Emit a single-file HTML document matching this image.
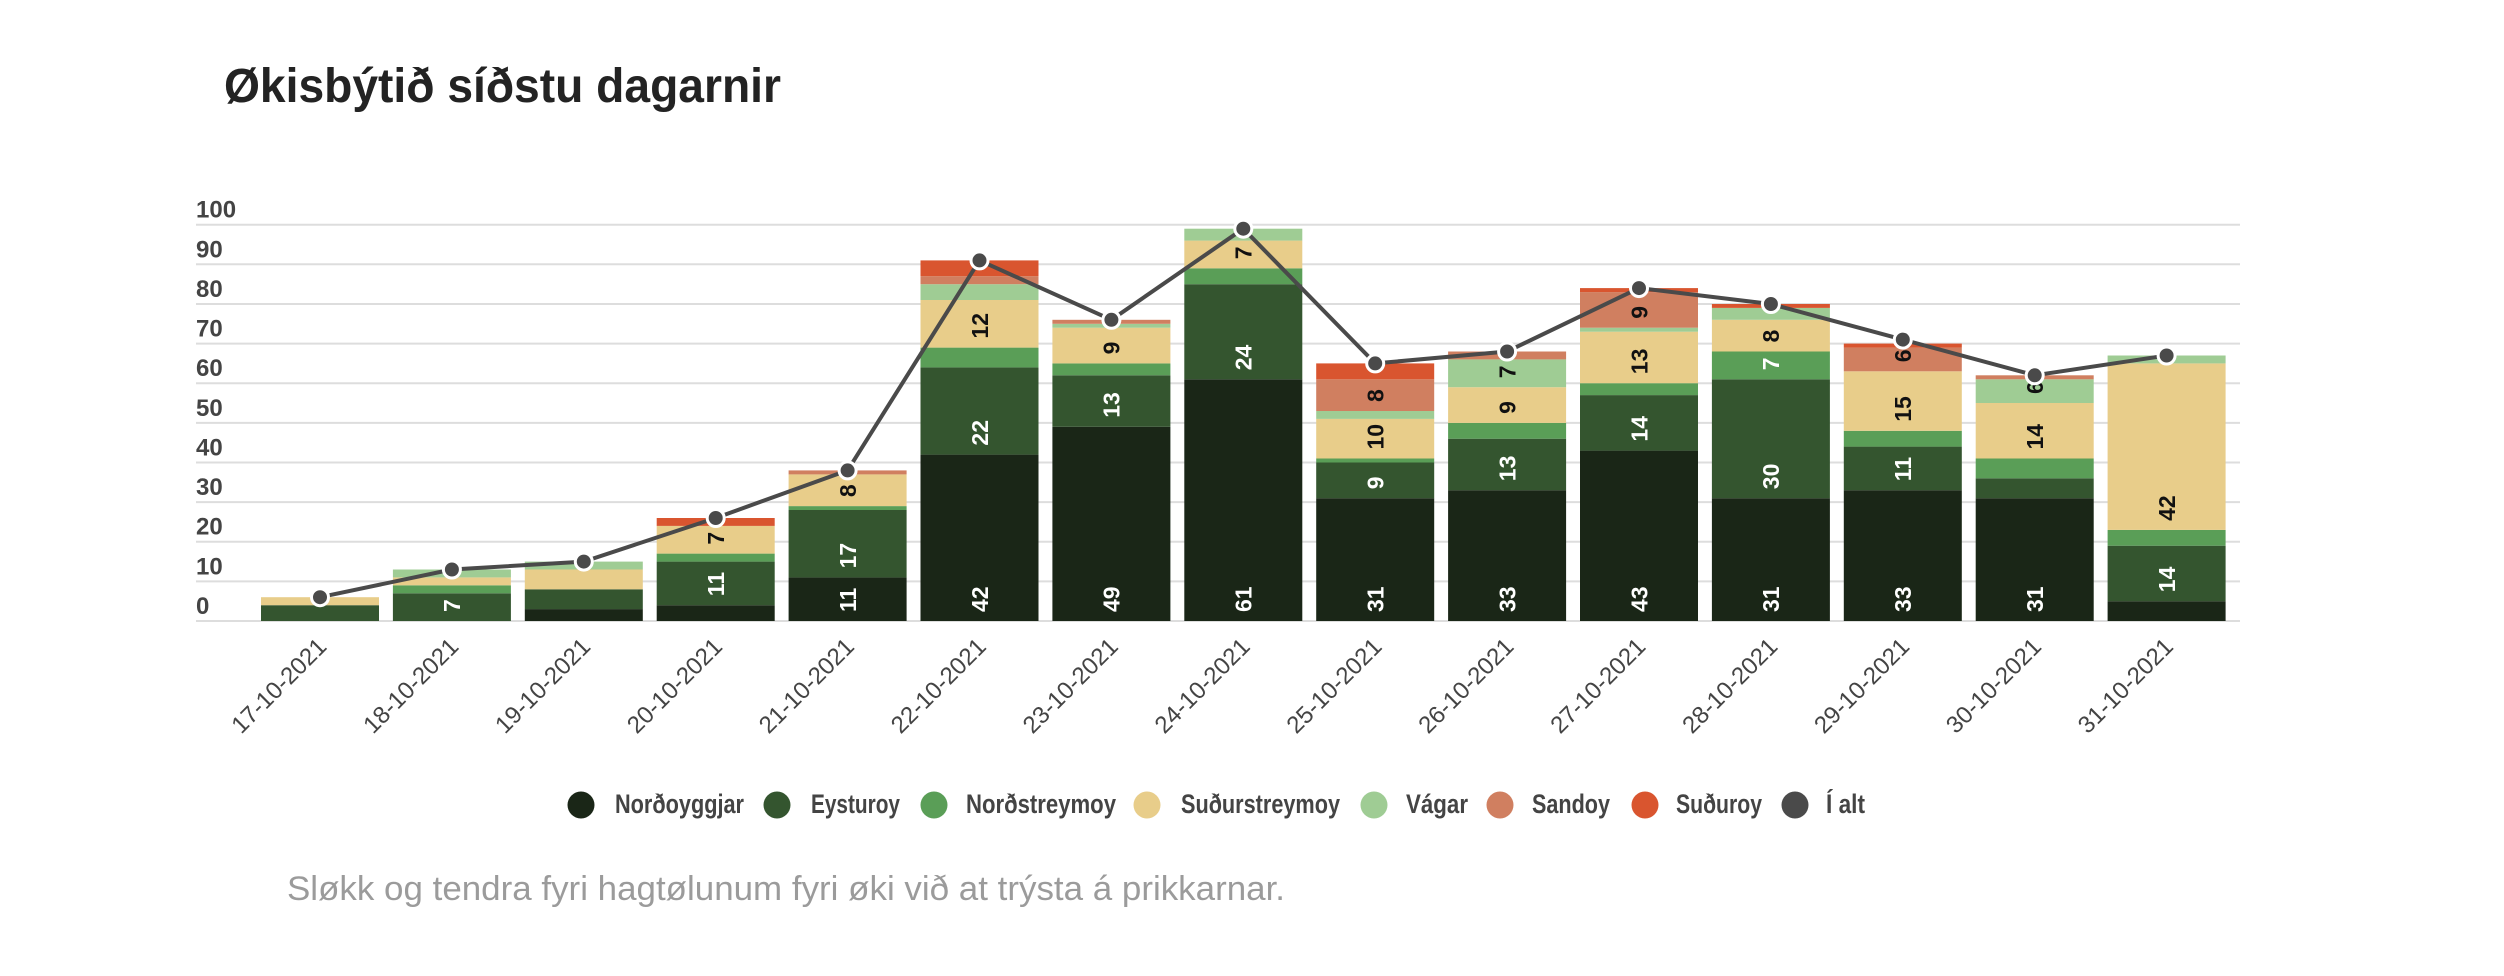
<!DOCTYPE html>
<html>
<head>
<meta charset="utf-8">
<style>
  html, body { margin: 0; padding: 0; background: #ffffff; }
  svg { display: block; }
  .yl { font-family: "Liberation Sans", sans-serif; font-weight: bold; font-size: 24px; fill: #444444; }
  .xl { font-family: "Liberation Sans", sans-serif; font-size: 24px; fill: #444444; }
  .dl { font-family: "Liberation Sans", sans-serif; font-weight: bold; font-size: 23px; }
  .w { fill: #ffffff; }
  .k { fill: #111111; }
  .lg { font-family: "Liberation Sans", sans-serif; font-weight: bold; font-size: 27px; fill: #444444; }
  .N { fill: #1a2617; }
  .E { fill: #34552f; }
  .NS { fill: #5a9e57; }
  .SS { fill: #e8cd8a; }
  .V { fill: #9fcc94; }
  .Sa { fill: #d07f60; }
  .Su { fill: #d9552f; }
</style>
</head>
<body>
<svg width="2504" height="976" viewBox="0 0 2504 976" xmlns="http://www.w3.org/2000/svg">
  <rect x="0" y="0" width="2504" height="976" fill="#ffffff"/>

  <!-- Title -->
  <text x="224" y="102" font-family="Liberation Sans, sans-serif" font-weight="bold" font-size="48" fill="#232323" textLength="557" lengthAdjust="spacingAndGlyphs">Økisbýtið síðstu dagarnir</text>

  <!-- Gridlines -->
  <g stroke="#dddddd" stroke-width="2">
    <line x1="196" y1="224.7" x2="2240" y2="224.7"/>
    <line x1="196" y1="264.3" x2="2240" y2="264.3"/>
    <line x1="196" y1="304.0" x2="2240" y2="304.0"/>
    <line x1="196" y1="343.6" x2="2240" y2="343.6"/>
    <line x1="196" y1="383.2" x2="2240" y2="383.2"/>
    <line x1="196" y1="422.9" x2="2240" y2="422.9"/>
    <line x1="196" y1="462.5" x2="2240" y2="462.5"/>
    <line x1="196" y1="502.1" x2="2240" y2="502.1"/>
    <line x1="196" y1="541.7" x2="2240" y2="541.7"/>
    <line x1="196" y1="581.4" x2="2240" y2="581.4"/>
    <line x1="196" y1="621.0" x2="2240" y2="621.0"/>
  </g>

  <!-- Y labels -->
  <text class="yl" x="196" y="217.7">100</text>
  <text class="yl" x="196" y="257.3">90</text>
  <text class="yl" x="196" y="297.0">80</text>
  <text class="yl" x="196" y="336.6">70</text>
  <text class="yl" x="196" y="376.2">60</text>
  <text class="yl" x="196" y="415.9">50</text>
  <text class="yl" x="196" y="455.5">40</text>
  <text class="yl" x="196" y="495.1">30</text>
  <text class="yl" x="196" y="534.7">20</text>
  <text class="yl" x="196" y="574.4">10</text>
  <text class="yl" x="196" y="614.0">0</text>

  <!-- Bars -->
  <!-- 17-10 -->
  <rect class="E" x="261" y="605.2" width="118" height="15.8"/>
  <rect class="SS" x="261" y="597.2" width="118" height="8.0"/>
  <!-- 18-10 -->
  <rect class="E" x="392.9" y="593.3" width="118" height="27.7"/>
  <rect class="NS" x="392.9" y="585.3" width="118" height="8.0"/>
  <rect class="SS" x="392.9" y="577.4" width="118" height="7.9"/>
  <rect class="V" x="392.9" y="569.5" width="118" height="7.9"/>
  <!-- 19-10 -->
  <rect class="N" x="524.8" y="609.1" width="118" height="11.9"/>
  <rect class="E" x="524.8" y="589.3" width="118" height="19.8"/>
  <rect class="SS" x="524.8" y="569.5" width="118" height="19.8"/>
  <rect class="V" x="524.8" y="561.6" width="118" height="7.9"/>
  <!-- 20-10 -->
  <rect class="N" x="656.7" y="605.2" width="118" height="15.8"/>
  <rect class="E" x="656.7" y="561.6" width="118" height="43.6"/>
  <rect class="NS" x="656.7" y="553.6" width="118" height="8.0"/>
  <rect class="SS" x="656.7" y="525.9" width="118" height="27.7"/>
  <rect class="Su" x="656.7" y="518.0" width="118" height="7.9"/>
  <!-- 21-10 -->
  <rect class="N" x="788.6" y="577.4" width="118" height="43.6"/>
  <rect class="E" x="788.6" y="510.0" width="118" height="67.4"/>
  <rect class="NS" x="788.6" y="506.1" width="118" height="3.9"/>
  <rect class="SS" x="788.6" y="474.4" width="118" height="31.7"/>
  <rect class="Sa" x="788.6" y="470.4" width="118" height="4.0"/>
  <!-- 22-10 -->
  <rect class="N" x="920.5" y="454.6" width="118" height="166.4"/>
  <rect class="E" x="920.5" y="367.4" width="118" height="87.2"/>
  <rect class="NS" x="920.5" y="347.6" width="118" height="19.8"/>
  <rect class="SS" x="920.5" y="300.0" width="118" height="47.6"/>
  <rect class="V" x="920.5" y="284.2" width="118" height="15.8"/>
  <rect class="Sa" x="920.5" y="276.2" width="118" height="8.0"/>
  <rect class="Su" x="920.5" y="260.4" width="118" height="15.8"/>
  <!-- 23-10 -->
  <rect class="N" x="1052.4" y="426.8" width="118" height="194.2"/>
  <rect class="E" x="1052.4" y="375.3" width="118" height="51.5"/>
  <rect class="NS" x="1052.4" y="363.4" width="118" height="11.9"/>
  <rect class="SS" x="1052.4" y="327.7" width="118" height="35.7"/>
  <rect class="V" x="1052.4" y="323.8" width="118" height="3.9"/>
  <rect class="Sa" x="1052.4" y="319.8" width="118" height="4.0"/>
  <!-- 24-10 -->
  <rect class="N" x="1184.3" y="379.3" width="118" height="241.7"/>
  <rect class="E" x="1184.3" y="284.2" width="118" height="95.1"/>
  <rect class="NS" x="1184.3" y="268.3" width="118" height="15.9"/>
  <rect class="SS" x="1184.3" y="240.6" width="118" height="27.7"/>
  <rect class="V" x="1184.3" y="228.7" width="118" height="11.9"/>
  <!-- 25-10 -->
  <rect class="N" x="1316.2" y="498.2" width="118" height="122.8"/>
  <rect class="E" x="1316.2" y="462.5" width="118" height="35.7"/>
  <rect class="NS" x="1316.2" y="458.5" width="118" height="4.0"/>
  <rect class="SS" x="1316.2" y="418.9" width="118" height="39.6"/>
  <rect class="V" x="1316.2" y="411.0" width="118" height="7.9"/>
  <rect class="Sa" x="1316.2" y="379.3" width="118" height="31.7"/>
  <rect class="Su" x="1316.2" y="363.4" width="118" height="15.9"/>
  <!-- 26-10 -->
  <rect class="N" x="1448.1" y="490.2" width="118" height="130.8"/>
  <rect class="E" x="1448.1" y="438.7" width="118" height="51.5"/>
  <rect class="NS" x="1448.1" y="422.9" width="118" height="15.8"/>
  <rect class="SS" x="1448.1" y="387.2" width="118" height="35.7"/>
  <rect class="V" x="1448.1" y="359.4" width="118" height="27.8"/>
  <rect class="Sa" x="1448.1" y="351.5" width="118" height="7.9"/>
  <!-- 27-10 -->
  <rect class="N" x="1580" y="450.6" width="118" height="170.4"/>
  <rect class="E" x="1580" y="395.1" width="118" height="55.5"/>
  <rect class="NS" x="1580" y="383.2" width="118" height="11.9"/>
  <rect class="SS" x="1580" y="331.7" width="118" height="51.5"/>
  <rect class="V" x="1580" y="327.7" width="118" height="4.0"/>
  <rect class="Sa" x="1580" y="292.1" width="118" height="35.6"/>
  <rect class="Su" x="1580" y="288.1" width="118" height="4.0"/>
  <!-- 28-10 -->
  <rect class="N" x="1711.9" y="498.2" width="118" height="122.8"/>
  <rect class="E" x="1711.9" y="379.3" width="118" height="118.9"/>
  <rect class="NS" x="1711.9" y="351.5" width="118" height="27.8"/>
  <rect class="SS" x="1711.9" y="319.8" width="118" height="31.7"/>
  <rect class="V" x="1711.9" y="307.9" width="118" height="11.9"/>
  <rect class="Su" x="1711.9" y="304.0" width="118" height="3.9"/>
  <!-- 29-10 -->
  <rect class="N" x="1843.8" y="490.2" width="118" height="130.8"/>
  <rect class="E" x="1843.8" y="446.6" width="118" height="43.6"/>
  <rect class="NS" x="1843.8" y="430.8" width="118" height="15.8"/>
  <rect class="SS" x="1843.8" y="371.3" width="118" height="59.5"/>
  <rect class="Sa" x="1843.8" y="347.6" width="118" height="23.7"/>
  <rect class="Su" x="1843.8" y="343.6" width="118" height="4.0"/>
  <!-- 30-10 -->
  <rect class="N" x="1975.7" y="498.2" width="118" height="122.8"/>
  <rect class="E" x="1975.7" y="478.3" width="118" height="19.9"/>
  <rect class="NS" x="1975.7" y="458.5" width="118" height="19.8"/>
  <rect class="SS" x="1975.7" y="403.0" width="118" height="55.5"/>
  <rect class="V" x="1975.7" y="379.3" width="118" height="23.7"/>
  <rect class="Sa" x="1975.7" y="375.3" width="118" height="4.0"/>
  <!-- 31-10 -->
  <rect class="N" x="2107.6" y="601.2" width="118" height="19.8"/>
  <rect class="E" x="2107.6" y="545.7" width="118" height="55.5"/>
  <rect class="NS" x="2107.6" y="529.9" width="118" height="15.8"/>
  <rect class="SS" x="2107.6" y="363.4" width="118" height="166.5"/>
  <rect class="V" x="2107.6" y="355.5" width="118" height="7.9"/>

  <!-- Data labels (rotated) -->
  <text class="dl w" transform="translate(451.9,612) rotate(-90)" dy="0.36em">7</text>

  <text class="dl w" transform="translate(715.7,596.2) rotate(-90)" dy="0.36em">11</text>
  <text class="dl k" transform="translate(715.7,544.6) rotate(-90)" dy="0.36em">7</text>

  <text class="dl w" transform="translate(847.6,612) rotate(-90)" dy="0.36em">11</text>
  <text class="dl w" transform="translate(847.6,568.4) rotate(-90)" dy="0.36em">17</text>
  <text class="dl k" transform="translate(847.6,497.1) rotate(-90)" dy="0.36em">8</text>

  <text class="dl w" transform="translate(979.5,612) rotate(-90)" dy="0.36em">42</text>
  <text class="dl w" transform="translate(979.5,445.6) rotate(-90)" dy="0.36em">22</text>
  <text class="dl k" transform="translate(979.5,338.6) rotate(-90)" dy="0.36em">12</text>

  <text class="dl w" transform="translate(1111.4,612) rotate(-90)" dy="0.36em">49</text>
  <text class="dl w" transform="translate(1111.4,417.8) rotate(-90)" dy="0.36em">13</text>
  <text class="dl k" transform="translate(1111.4,354.4) rotate(-90)" dy="0.36em">9</text>

  <text class="dl w" transform="translate(1243.3,612) rotate(-90)" dy="0.36em">61</text>
  <text class="dl w" transform="translate(1243.3,370.3) rotate(-90)" dy="0.36em">24</text>
  <text class="dl k" transform="translate(1243.3,259.3) rotate(-90)" dy="0.36em">7</text>

  <text class="dl w" transform="translate(1375.2,612) rotate(-90)" dy="0.36em">31</text>
  <text class="dl w" transform="translate(1375.2,489.2) rotate(-90)" dy="0.36em">9</text>
  <text class="dl k" transform="translate(1375.2,449.5) rotate(-90)" dy="0.36em">10</text>
  <text class="dl k" transform="translate(1375.2,402.0) rotate(-90)" dy="0.36em">8</text>

  <text class="dl w" transform="translate(1507.1,612) rotate(-90)" dy="0.36em">33</text>
  <text class="dl w" transform="translate(1507.1,481.2) rotate(-90)" dy="0.36em">13</text>
  <text class="dl k" transform="translate(1507.1,413.9) rotate(-90)" dy="0.36em">9</text>
  <text class="dl k" transform="translate(1507.1,378.2) rotate(-90)" dy="0.36em">7</text>

  <text class="dl w" transform="translate(1639,612) rotate(-90)" dy="0.36em">43</text>
  <text class="dl w" transform="translate(1639,441.6) rotate(-90)" dy="0.36em">14</text>
  <text class="dl k" transform="translate(1639,374.2) rotate(-90)" dy="0.36em">13</text>
  <text class="dl k" transform="translate(1639,318.7) rotate(-90)" dy="0.36em">9</text>

  <text class="dl w" transform="translate(1770.9,612) rotate(-90)" dy="0.36em">31</text>
  <text class="dl w" transform="translate(1770.9,489.2) rotate(-90)" dy="0.36em">30</text>
  <text class="dl w" transform="translate(1770.9,370.3) rotate(-90)" dy="0.36em">7</text>
  <text class="dl k" transform="translate(1770.9,342.5) rotate(-90)" dy="0.36em">8</text>

  <text class="dl w" transform="translate(1902.8,612) rotate(-90)" dy="0.36em">33</text>
  <text class="dl w" transform="translate(1902.8,481.2) rotate(-90)" dy="0.36em">11</text>
  <text class="dl k" transform="translate(1902.8,421.8) rotate(-90)" dy="0.36em">15</text>
  <text class="dl k" transform="translate(1902.8,362.3) rotate(-90)" dy="0.36em">6</text>

  <text class="dl w" transform="translate(2034.7,612) rotate(-90)" dy="0.36em">31</text>
  <text class="dl k" transform="translate(2034.7,449.5) rotate(-90)" dy="0.36em">14</text>
  <text class="dl k" transform="translate(2034.7,394.0) rotate(-90)" dy="0.36em">6</text>

  <text class="dl w" transform="translate(2166.6,592.2) rotate(-90)" dy="0.36em">14</text>
  <text class="dl k" transform="translate(2166.6,520.9) rotate(-90)" dy="0.36em">42</text>

  <!-- Total line -->
  <polyline fill="none" stroke="#4a4a4a" stroke-width="4" stroke-linejoin="round"
    points="320,597.2 451.9,569.5 583.8,561.6 715.7,518.0 847.6,470.4 979.5,260.4 1111.4,319.8 1243.3,228.7 1375.2,363.4 1507.1,351.5 1639,288.1 1770.9,304.0 1902.8,339.6 2034.7,375.3 2166.6,355.5"/>
  <g fill="#4a4a4a" stroke="#ffffff" stroke-width="3">
    <circle cx="320" cy="597.2" r="8.5"/>
    <circle cx="451.9" cy="569.5" r="8.5"/>
    <circle cx="583.8" cy="561.6" r="8.5"/>
    <circle cx="715.7" cy="518.0" r="8.5"/>
    <circle cx="847.6" cy="470.4" r="8.5"/>
    <circle cx="979.5" cy="260.4" r="8.5"/>
    <circle cx="1111.4" cy="319.8" r="8.5"/>
    <circle cx="1243.3" cy="228.7" r="8.5"/>
    <circle cx="1375.2" cy="363.4" r="8.5"/>
    <circle cx="1507.1" cy="351.5" r="8.5"/>
    <circle cx="1639" cy="288.1" r="8.5"/>
    <circle cx="1770.9" cy="304.0" r="8.5"/>
    <circle cx="1902.8" cy="339.6" r="8.5"/>
    <circle cx="2034.7" cy="375.3" r="8.5"/>
    <circle cx="2166.6" cy="355.5" r="8.5"/>
  </g>

  <!-- X labels -->
  <g text-anchor="end">
    <text class="xl" transform="translate(328,648) rotate(-45)">17-10-2021</text>
    <text class="xl" transform="translate(459.9,648) rotate(-45)">18-10-2021</text>
    <text class="xl" transform="translate(591.8,648) rotate(-45)">19-10-2021</text>
    <text class="xl" transform="translate(723.7,648) rotate(-45)">20-10-2021</text>
    <text class="xl" transform="translate(855.6,648) rotate(-45)">21-10-2021</text>
    <text class="xl" transform="translate(987.5,648) rotate(-45)">22-10-2021</text>
    <text class="xl" transform="translate(1119.4,648) rotate(-45)">23-10-2021</text>
    <text class="xl" transform="translate(1251.3,648) rotate(-45)">24-10-2021</text>
    <text class="xl" transform="translate(1383.2,648) rotate(-45)">25-10-2021</text>
    <text class="xl" transform="translate(1515.1,648) rotate(-45)">26-10-2021</text>
    <text class="xl" transform="translate(1647,648) rotate(-45)">27-10-2021</text>
    <text class="xl" transform="translate(1778.9,648) rotate(-45)">28-10-2021</text>
    <text class="xl" transform="translate(1910.8,648) rotate(-45)">29-10-2021</text>
    <text class="xl" transform="translate(2042.7,648) rotate(-45)">30-10-2021</text>
    <text class="xl" transform="translate(2174.6,648) rotate(-45)">31-10-2021</text>
  </g>

  <!-- Legend -->
  <circle cx="581" cy="805" r="13.5" fill="#1a2617"/>
  <text class="lg" x="615" y="813" textLength="129" lengthAdjust="spacingAndGlyphs">Norðoyggjar</text>
  <circle cx="777" cy="805" r="13.5" fill="#34552f"/>
  <text class="lg" x="811" y="813" textLength="89" lengthAdjust="spacingAndGlyphs">Eysturoy</text>
  <circle cx="934" cy="805" r="13.5" fill="#5a9e57"/>
  <text class="lg" x="966" y="813" textLength="150" lengthAdjust="spacingAndGlyphs">Norðstreymoy</text>
  <circle cx="1147" cy="805" r="13.5" fill="#e8cd8a"/>
  <text class="lg" x="1181" y="813" textLength="159" lengthAdjust="spacingAndGlyphs">Suðurstreymoy</text>
  <circle cx="1374" cy="805" r="13.5" fill="#9fcc94"/>
  <text class="lg" x="1406" y="813" textLength="62" lengthAdjust="spacingAndGlyphs">Vágar</text>
  <circle cx="1500" cy="805" r="13.5" fill="#d07f60"/>
  <text class="lg" x="1532" y="813" textLength="78" lengthAdjust="spacingAndGlyphs">Sandoy</text>
  <circle cx="1645" cy="805" r="13.5" fill="#d9552f"/>
  <text class="lg" x="1676" y="813" textLength="86" lengthAdjust="spacingAndGlyphs">Suðuroy</text>
  <circle cx="1795" cy="805" r="13.5" fill="#4a4a4a"/>
  <text class="lg" x="1826" y="813" textLength="39" lengthAdjust="spacingAndGlyphs">Í alt</text>

  <!-- Footer note -->
  <text x="287" y="900" font-family="Liberation Sans, sans-serif" font-size="34" fill="#9b9b9b" textLength="998" lengthAdjust="spacingAndGlyphs">Sløkk og tendra fyri hagtølunum fyri øki við at trýsta á prikkarnar.</text>
</svg>
</body>
</html>
